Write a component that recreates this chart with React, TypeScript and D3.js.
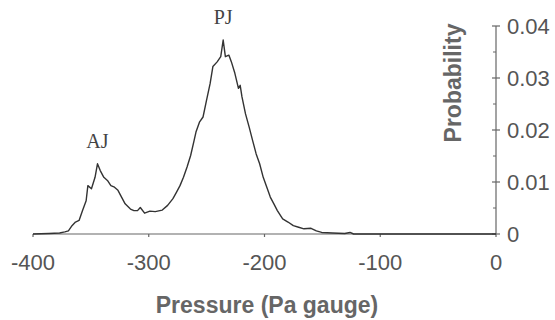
import React from "react";
import * as d3 from "d3";

const pressure = [
  -400, -386.2, -377, -372.5, -369.4, -366.3, -363.3, -360.2, -357.2, -354.1, -352.6, -349.5,
  -346.4, -344.3, -341.9, -338.8, -335.7, -332.7, -329.6, -326.6, -323.5, -320.4, -315.8, -312.8,
  -309.7, -307.3, -303.6, -299, -294.4, -288.3, -283.7, -279.1, -276.1, -273, -270, -266.9, -263.8,
  -260.8, -259.2, -256.2, -253.1, -250.1, -247, -244.6, -240.9, -237.8, -235.7, -233.8, -230.8,
  -228.6, -225.6, -222.5, -221, -219.5, -216.4, -213.3, -210.3, -207.2, -204.2, -201.1, -198, -195,
  -191.9, -188.9, -184.3, -179.7, -175.1, -170.5, -165.9, -159.8, -155.2, -150.6, -141.4, -130.7,
  -126.1, -123, -100, -50, 0,
];
const probability = [
  0, 0.0001, 0.0002, 0.0004, 0.0006, 0.0016, 0.0023, 0.0026, 0.0045, 0.0064, 0.0093, 0.0087,
  0.0109, 0.0135, 0.0122, 0.0109, 0.0103, 0.0093, 0.009, 0.0084, 0.0071, 0.0058, 0.0048, 0.0045,
  0.0045, 0.0051, 0.004, 0.0044, 0.0043, 0.0046, 0.0055, 0.0068, 0.008, 0.0093, 0.0109, 0.0129,
  0.0151, 0.018, 0.0196, 0.0215, 0.0225, 0.0257, 0.0289, 0.0322, 0.0331, 0.0341, 0.0373, 0.0341,
  0.0344, 0.0331, 0.0309, 0.028, 0.0286, 0.0264, 0.0231, 0.0206, 0.018, 0.0154, 0.0135, 0.0109,
  0.009, 0.0071, 0.0058, 0.0045, 0.0029, 0.0023, 0.0016, 0.0013, 0.001, 0.0011, 0.0006, 0.0003,
  0.0002, 0.0001, 0.0003, 0, 0, 0, 0,
];
const xTicks = [-400, -300, -200, -100, 0];
const yTicks = [0, 0.01, 0.02, 0.03, 0.04];
const yMinorTicks = [0.005, 0.015, 0.025, 0.035];
const peakLabels = [
  { text: "AJ", p: -344.3, v: 0.0135 },
  { text: "PJ", p: -235.7, v: 0.0373 },
];

export default function App() {
  const x = d3.scaleLinear().domain([-400, 0]).range([33, 496]);
  const y = d3.scaleLinear().domain([0, 0.04]).range([234, 26]);
  const data = pressure.map((p, i) => [p, probability[i]] as [number, number]);
  const line = d3
    .line<[number, number]>()
    .x((d) => x(d[0]))
    .y((d) => y(d[1]));
  const axisColor = "#666";
  const textColor = "#555";
  const sans = "'Liberation Sans', Arial, Helvetica, sans-serif";
  return (
    <svg
      width={555}
      height={320}
      style={{ position: "absolute", left: 0, top: 0, background: "#fff" }}
    >
      {/* x axis */}
      <line x1={x(-400)} x2={x(0)} y1={y(0)} y2={y(0)} stroke={axisColor} strokeWidth={1.2} />
      {xTicks.map((t) => (
        <g key={"xt" + t}>
          <line x1={x(t)} x2={x(t)} y1={y(0)} y2={y(0) + 3} stroke={axisColor} strokeWidth={1.2} />
          <text
            x={x(t)}
            y={270}
            textAnchor="middle"
            fontFamily={sans}
            fontSize={22}
            fill={textColor}
          >
            {t}
          </text>
        </g>
      ))}
      {/* y axis (right) */}
      <line x1={x(0)} x2={x(0)} y1={y(0)} y2={y(0.04)} stroke={axisColor} strokeWidth={1.2} />
      {yTicks.map((t) => (
        <g key={"yt" + t}>
          <line x1={x(0) - 4} x2={x(0) + 4} y1={y(t)} y2={y(t)} stroke={axisColor} strokeWidth={1.2} />
          <text
            x={x(0) + 11}
            y={y(t) + 8}
            textAnchor="start"
            fontFamily={sans}
            fontSize={22}
            fill={textColor}
          >
            {t === 0 ? "0" : t.toFixed(2)}
          </text>
        </g>
      ))}
      {yMinorTicks.map((t) => (
        <line
          key={"ym" + t}
          x1={x(0) - 3}
          x2={x(0)}
          y1={y(t)}
          y2={y(t)}
          stroke={axisColor}
          strokeWidth={1}
        />
      ))}
      {/* curve */}
      <path d={line(data) || ""} fill="none" stroke="#333" strokeWidth={1.4} strokeLinejoin="round" />
      {/* peak labels */}
      {peakLabels.map((l) => (
        <text
          key={l.text}
          x={x(l.p)}
          y={y(l.v) - 16}
          textAnchor="middle"
          fontFamily="'Liberation Serif', 'Times New Roman', serif"
          fontSize={20}
          fill="#444"
        >
          {l.text}
        </text>
      ))}
      {/* axis titles */}
      <text
        x={267}
        y={313}
        textAnchor="middle"
        fontFamily={sans}
        fontWeight="bold"
        fontSize={23}
        fill="#666"
      >
        Pressure (Pa gauge)
      </text>
      <text
        transform="translate(461,83) rotate(-90)"
        textAnchor="middle"
        fontFamily={sans}
        fontWeight="bold"
        fontSize={23}
        fill="#666"
      >
        Probability
      </text>
    </svg>
  );
}
